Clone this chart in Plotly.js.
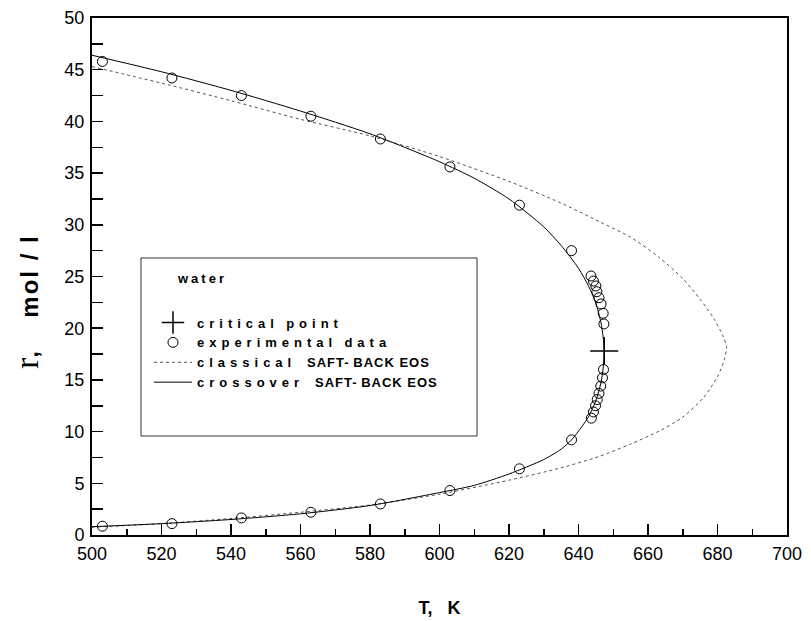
<!DOCTYPE html>
<html><head><meta charset="utf-8">
<script src="https://cdn.plot.ly/plotly-3.0.1.min.js"></script>
<style>html,body{margin:0;padding:0;background:#fff}</style>
</head><body><div id="chart" style="width:811px;height:621px"></div>
<script>
// experimental data (liquid branch then vapour branch)
const expT = [503,523,543,563,583,603,623,638,643.6,644.3,645.0,645.3,645.9,646.5,647.1,647.3,
              647.2,646.9,646.4,645.9,645.4,644.9,644.3,643.7,638,623,603,583,563,543,523,503];
const expRho = [45.8,44.2,42.5,40.5,38.3,35.6,31.9,27.5,25.05,24.56,24.08,23.53,22.95,22.34,21.44,20.41,
                16.0,15.2,14.4,13.7,13.1,12.5,11.9,11.3,9.2,6.4,4.3,3.0,2.2,1.65,1.1,0.85];
// critical point
const critT = [647.4];
const critRho = [17.8];
// crossover SAFT-BACK EOS
const crossT = [500,520,540,560,580,600,610,620,630,635,640,643,645,646.5,647.2,647.4,
                647.2,646.5,645,643,641,638,635,630,620,610,600,580,560,540,520,500];
const crossRho = [46.4,44.8,43.0,41.0,38.8,36.1,34.5,32.5,29.8,28.0,25.8,24.0,22.4,20.5,18.8,17.8,
                  16.5,14.8,13.0,11.5,10.5,9.2,8.3,7.3,5.9,4.8,4.1,2.85,2.05,1.5,1.1,0.8];
// classical SAFT-BACK EOS
const classT = [500,520,540,560,580,600,620,635,646,655,663,670,675,679,681.5,682.6,
                682,680,676,670,663.5,655,646,635,620,600,580,560,540,520,500];
const classRho = [45.3,43.7,42.0,40.2,38.6,36.6,34.2,32.1,30.3,28.8,26.9,24.8,22.8,20.9,19.3,18.2,
                  17.0,15.3,13.3,11.4,10.1,8.8,7.6,6.5,5.3,3.95,2.9,2.2,1.6,1.1,0.75];

const FONT = 'Arial, "Liberation Sans", sans-serif';
const ls = s => '<span style="letter-spacing:5px">' + s + '</span>';
const up = s => '<span style="letter-spacing:1px">' + s + '</span>';
const SP2 = '\u00a0\u00a0', SP3 = '\u00a0\u00a0\u00a0';

const traces = [
  {x: classT, y: classRho, mode: 'lines', name: ls('classical') + SP3 + up('SAFT-') + '\u00a0' + up('BACK EOS'),
   line: {color: '#555', width: 1, dash: 'dot', shape: 'spline', smoothing: 0.7}, legendrank: 3},
  {x: crossT, y: crossRho, mode: 'lines', name: ls('crossover') + SP3 + up('SAFT-') + '\u00a0' + up('BACK EOS'),
   line: {color: '#000', width: 1, shape: 'spline', smoothing: 0.7}, legendrank: 4},
  {x: expT, y: expRho, mode: 'markers', name: ls('experimental') + SP2 + ls('data'),
   marker: {symbol: 'circle-open', size: 10, color: '#000', line: {width: 1, color: '#000'}}, legendrank: 2},
  {x: critT, y: critRho, mode: 'markers', name: ls('critical') + SP2 + ls('point'),
   marker: {symbol: 'cross-thin-open', size: 20, color: '#000', line: {width: 1.5, color: '#000'}}, legendrank: 1}
];

const layout = {
  width: 811, height: 621,
  margin: {l: 92, r: 24, t: 18, b: 86},
  paper_bgcolor: '#fff', plot_bgcolor: '#fff',
  font: {family: FONT, color: '#000', size: 18},
  showlegend: true,
  legend: {x: 0.082, y: 0.44, xanchor: 'left', yanchor: 'top', bgcolor: 'rgba(0,0,0,0)',
           borderwidth: 0, itemwidth: 38, font: {family: FONT, size: 13, weight: 'bold', color: '#000'},
           tracegroupgap: 0},
  xaxis: {range: [500, 700], tick0: 500, dtick: 20, ticks: 'inside', ticklen: 11, tickwidth: 1.5,
          tickcolor: '#000', showline: true, linewidth: 2, linecolor: '#000', mirror: true,
          showgrid: false, zeroline: false, tickfont: {size: 18}, ticklabelstandoff: 1,
          minor: {dtick: 10, ticks: 'inside', ticklen: 6, tickwidth: 1.5, tickcolor: '#000', showgrid: false},
          title: {text: 'T,\u00a0\u00a0\u00a0K', font: {size: 18, weight: 'bold'}, standoff: 39}},
  yaxis: {range: [0, 50], tick0: 0, dtick: 5, ticks: 'inside', ticklen: 11, tickwidth: 1.5,
          tickcolor: '#000', showline: true, linewidth: 2, linecolor: '#000', mirror: true,
          showgrid: false, zeroline: false, tickfont: {size: 18}, ticklabelstandoff: 2,
          minor: {dtick: 2.5, ticks: 'inside', ticklen: 11, tickwidth: 1.5, tickcolor: '#000', showgrid: false}},
  shapes: [{type: 'rect', xref: 'paper', yref: 'paper', x0: 0.0705, x1: 0.554, y0: 0.1915, y1: 0.5358,
            line: {color: '#333', width: 1}, fillcolor: 'rgba(0,0,0,0)'}],
  annotations: [
    {xref: 'paper', yref: 'paper', x: 0.1194, y: 0.497, xanchor: 'left', yanchor: 'middle',
     showarrow: false, text: '<span style="letter-spacing:3px">water</span>',
     font: {family: FONT, size: 13, weight: 'bold', color: '#000'}},
    {xref: 'paper', yref: 'paper', x: -0.0935, y: 0.4507, xanchor: 'center', yanchor: 'middle',
     showarrow: false, textangle: -90,
     text: '<span style="font-family:\'Liberation Serif\',serif;font-weight:normal;font-size:34px">r</span>,\u00a0\u00a0\u00a0\u00a0\u00a0<span style="letter-spacing:2px">mol / l</span>',
     font: {family: FONT, size: 24, weight: 'bold', color: '#000'}}
  ]
};

Plotly.newPlot('chart', traces, layout, {displayModeBar: false, staticPlot: true});
</script></body></html>
